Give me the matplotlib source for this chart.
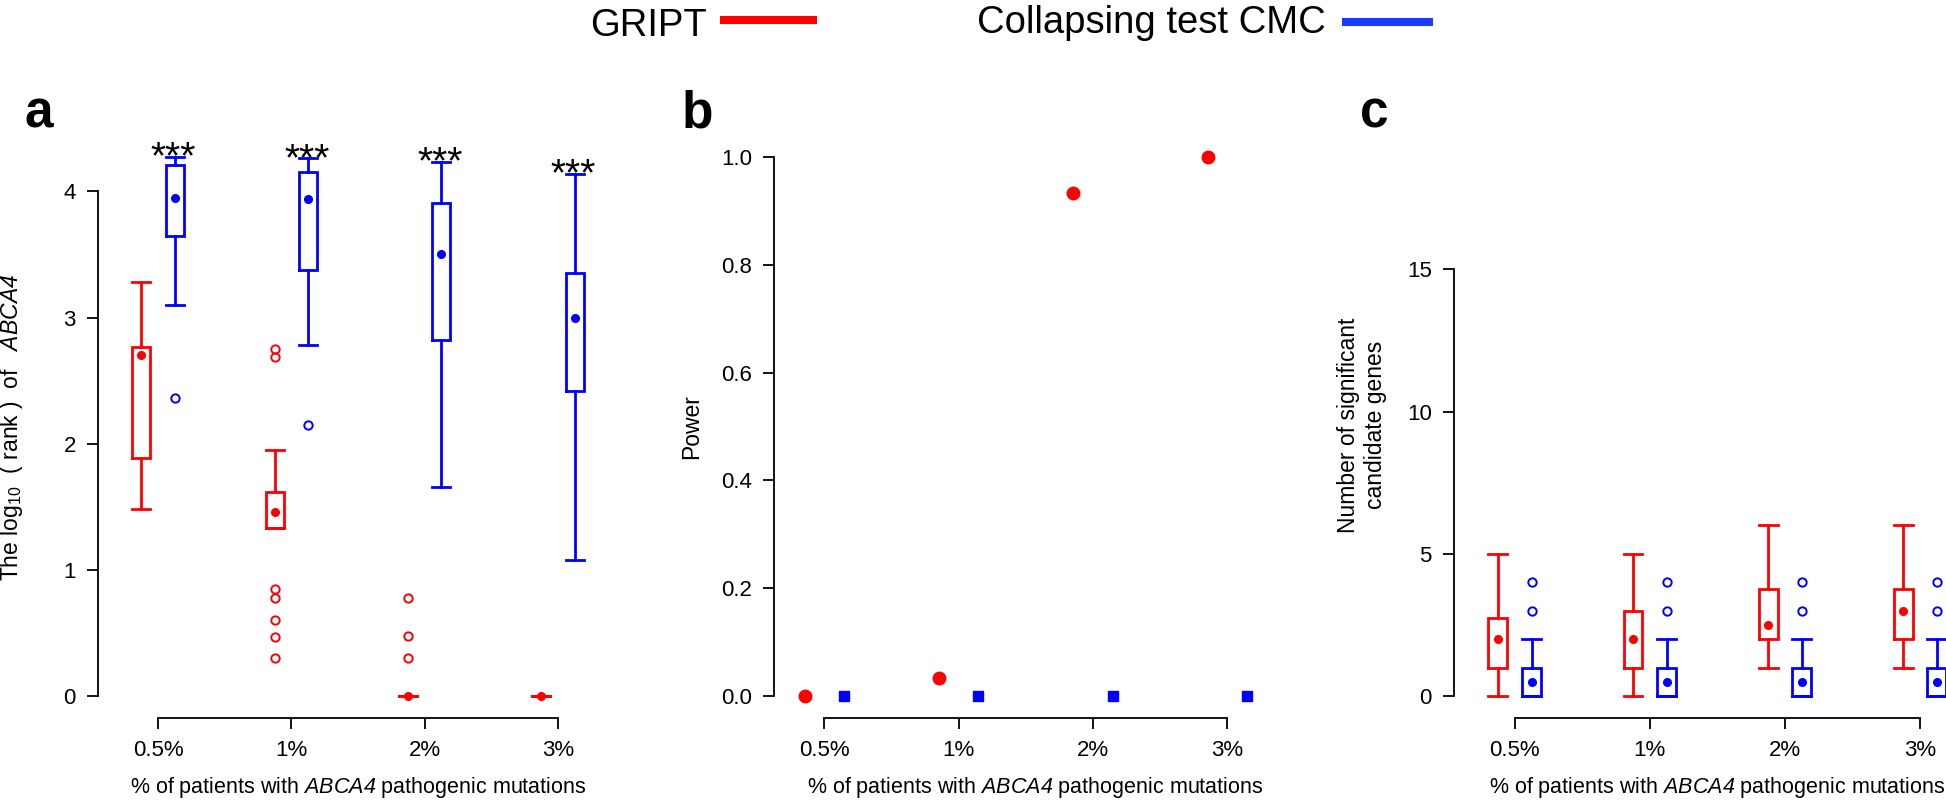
# GRIPT vs collapsing test CMC: rank of ABCA4, power, number of significant genes

import matplotlib
matplotlib.use('Agg')
import matplotlib.pyplot as plt
from matplotlib.lines import Line2D

plt.rcParams['font.family'] = ['Liberation Sans', 'DejaVu Sans']
plt.rcParams['mathtext.fontset'] = 'custom'
plt.rcParams['mathtext.rm'] = 'Liberation Sans'
plt.rcParams['mathtext.it'] = 'Liberation Sans:italic'
# sf slot used for the gene name so the digit is italic too
plt.rcParams['mathtext.sf'] = 'Liberation Sans:italic'

pct_labels = ['0.5%', '1%', '2%', '3%']
groups = [1, 2, 3, 4]

# panel a : log10(rank) of ABCA4
a_gript_wlo = [1.48, 1.33, 0, 0]
a_gript_q1 = [1.89, 1.33, 0, 0]
a_gript_q3 = [2.77, 1.62, 0, 0]
a_gript_whi = [3.28, 1.95, 0, 0]
a_gript_dot = [2.70, 1.46, 0, 0]
a_gript_out = [[], [2.75, 2.69, 0.845, 0.78, 0.60, 0.47, 0.30], [0.776, 0.474, 0.30], []]

a_cmc_wlo = [3.10, 2.78, 1.66, 1.08]
a_cmc_q1 = [3.645, 3.38, 2.82, 2.415]
a_cmc_q3 = [4.21, 4.15, 3.91, 3.35]
a_cmc_whi = [4.27, 4.26, 4.23, 4.14]
a_cmc_dot = [3.95, 3.94, 3.50, 3.00]
a_cmc_out = [[2.36], [2.15], [], []]
a_stars = ['***', '***', '***', '***']

# panel b : power
b_gript = [0.0, 0.033, 0.933, 1.0]
b_cmc = [0.0, 0.0, 0.0, 0.0]

# panel c : number of significant candidate genes
c_gript_wlo = [0, 0, 1, 1]
c_gript_q1 = [1, 1, 2, 2]
c_gript_q3 = [2.75, 3, 3.75, 3.75]
c_gript_whi = [5, 5, 6, 6]
c_gript_dot = [2, 2, 2.5, 3]
c_gript_out = [[], [], [], []]

c_cmc_wlo = [0, 0, 0, 0]
c_cmc_q1 = [0, 0, 0, 0]
c_cmc_q3 = [1, 1, 1, 1]
c_cmc_whi = [2, 2, 2, 2]
c_cmc_dot = [0.5, 0.5, 0.5, 0.5]
c_cmc_out = [[3, 4], [3, 4], [3, 4], [3, 4]]

RED = '#ff0000'
BLUE = '#0000ff'
W, H = 1946., 801.
XLAB = r'% of patients with $\mathsf{ABCA4}$ pathogenic mutations'


def fx(px):
    return px / W


def fy(py):
    return 1 - py / H


def make_axes(fig, left, right, top, bottom):
    ax = fig.add_axes([fx(left), fy(bottom), (right - left) / W, (bottom - top) / H])
    for s in ['top', 'right']:
        ax.spines[s].set_visible(False)
    for s in ['left', 'bottom']:
        ax.spines[s].set_linewidth(1.3)
    ax.tick_params(direction='out', length=8, width=1.3, pad=8, labelsize=16)
    ax.set_xticks(groups)
    ax.set_xticklabels(pct_labels)
    ax.spines['bottom'].set_bounds(groups[0], groups[-1])
    return ax


def draw_boxes(ax, pos, wlo, q1, q3, whi, dot, out, color, width):
    stats = []
    for i in range(len(pos)):
        stats.append(dict(med=dot[i], mean=dot[i], q1=q1[i], q3=q3[i],
                          whislo=wlo[i], whishi=whi[i], fliers=out[i]))
    lp = dict(color=color, linewidth=2, solid_joinstyle='miter')
    ax.bxp(stats, positions=pos, widths=width, capwidths=width, showmeans=True,
           boxprops=lp, whiskerprops=lp, capprops=lp,
           medianprops=dict(linestyle='none'),
           meanprops=dict(marker='o', markerfacecolor=color, markeredgecolor=color, markersize=5.5),
           flierprops=dict(marker='o', markerfacecolor='none', markeredgecolor=color,
                           markersize=6, markeredgewidth=1.4),
           manage_ticks=False)


fig = plt.figure(figsize=(19.46, 8.01), dpi=100)

# ---- panel a
axa = make_axes(fig, 98, 600, 140, 718)
axa.set_xlim(0.55, 4.315)
axa.set_ylim(-0.1735, 4.4065)
axa.set_yticks([0, 1, 2, 3, 4])
axa.spines['left'].set_bounds(0, 4)
off, bw = 0.125, 0.135
draw_boxes(axa, [g - off for g in groups], a_gript_wlo, a_gript_q1, a_gript_q3, a_gript_whi,
           a_gript_dot, a_gript_out, RED, bw)
draw_boxes(axa, [g + off for g in groups], a_cmc_wlo, a_cmc_q1, a_cmc_q3, a_cmc_whi,
           a_cmc_dot, a_cmc_out, BLUE, bw)
for g, hi, s in zip(groups, a_cmc_whi, a_stars):
    axa.text(g + off - 0.01, hi - 0.09, s, ha='center', va='baseline', fontsize=28)
fig.text(fx(11.5), fy(427), r'The log$_{10}$  ( rank )  of   $\mathsf{ABCA4}$',
         rotation=90, ha='center', va='center', fontsize=16.5)
fig.text(fx(358), fy(787), XLAB, ha='center', va='center', fontsize=15.5)

# ---- panel b
axb = make_axes(fig, 774.4, 1290, 140, 718)
axb.set_xlim(0.6312, 4.4647)
axb.set_ylim(-0.0406, 1.0311)
axb.set_yticks([0, 0.2, 0.4, 0.6, 0.8, 1.0])
axb.set_yticklabels(['0.0', '0.2', '0.4', '0.6', '0.8', '1.0'])
axb.spines['left'].set_bounds(0, 1)
boff = 0.145
axb.plot([g - boff for g in groups], b_gript, 'o', color=RED, markersize=9, clip_on=False)
axb.plot([g + boff for g in groups], b_cmc, 's', color=BLUE, markersize=7.8, clip_on=False)
fig.text(fx(691.5), fy(427), 'Power', rotation=90, ha='center', va='center', fontsize=16.5)
fig.text(fx(1035), fy(787), XLAB, ha='center', va='center', fontsize=15.5)

# ---- panel c
axc = make_axes(fig, 1454, 1946, 140, 718)
axc.set_xlim(0.5499, 4.1925)
axc.set_ylim(-0.77, 19.55)
axc.set_yticks([0, 5, 10, 15])
axc.spines['left'].set_bounds(0, 15)
cbw = 0.14
draw_boxes(axc, [g - off for g in groups], c_gript_wlo, c_gript_q1, c_gript_q3, c_gript_whi,
           c_gript_dot, c_gript_out, RED, cbw)
draw_boxes(axc, [g + off for g in groups], c_cmc_wlo, c_cmc_q1, c_cmc_q3, c_cmc_whi,
           c_cmc_dot, c_cmc_out, BLUE, cbw)
fig.text(fx(1362), fy(425), 'Number of significant\ncandidate genes', rotation=90,
         ha='center', va='center', fontsize=16.5, linespacing=1.25)
fig.text(fx(1717), fy(787), XLAB, ha='center', va='center', fontsize=15.5)

# panel letters
for x, lab in [(25, 'a'), (682, 'b'), (1360, 'c')]:
    fig.text(fx(x), fy(127), lab, fontsize=37, fontweight='bold', va='baseline', ha='left')

# legend on top
fig.text(fx(590), fy(36), 'GRIPT', fontsize=27.5, va='baseline', ha='left')
fig.add_artist(Line2D([fx(720), fx(817)], [fy(20), fy(20)], color=RED, lw=5.8,
                      solid_capstyle='butt'))
fig.text(fx(977), fy(33), 'Collapsing test CMC', fontsize=27.5, va='baseline', ha='left')
fig.add_artist(Line2D([fx(1342), fx(1433)], [fy(22), fy(22)], color='#1a3cff', lw=5.8,
                      solid_capstyle='butt'))

plt.savefig('out.png', dpi=100)
